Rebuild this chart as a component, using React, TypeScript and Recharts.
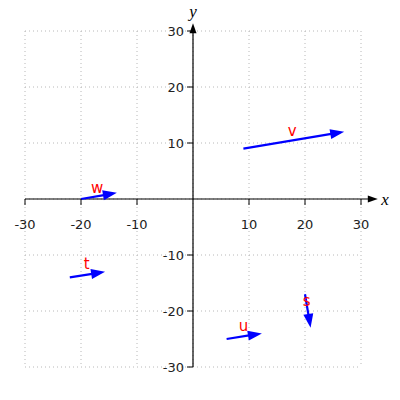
import { ComposedChart, XAxis, YAxis, CartesianGrid, ReferenceLine, ReferenceDot, Scatter } from 'recharts';

// vectors (start -> end) and where their names sit
const names = ['v', 'w', 't', 's', 'u'];
const startX = [9, -20, -22, 20, 6];
const startY = [9, 0, -14, -17, -25];
const endX = [27, -13.6, -15.7, 21, 12.3];
const endY = [12, 1.1, -13, -23, -24];
const labelX = [17.7, -17.1, -19, 20.3, 9];
const labelY = [12.1, 1.9, -11.6, -18.2, -22.7];

const tickValues = [-30, -20, -10, 10, 20, 30];
const gridValues = [-30, -20, -10, 0, 10, 20, 30];
const xAxisEnd = 33;
const yAxisEnd = 31.4;

const labelData = names.map((n, i) => ({ name: n, x: labelX[i], y: labelY[i] }));
const xTickData = tickValues.map(v => ({ x: v, y: 0 }));
const yTickData = tickValues.map(v => ({ x: 0, y: v }));

const FONT = "'DejaVu Sans', sans-serif";

const Arrow = (props: any) => {
  const { x1, y1, x2, y2, color, width, headLen, headW } = props;
  const dx = x2 - x1;
  const dy = y2 - y1;
  const len = Math.sqrt(dx * dx + dy * dy) || 1;
  const ux = dx / len;
  const uy = dy / len;
  const bx = x2 - ux * headLen;
  const by = y2 - uy * headLen;
  const px = -uy * headW / 2;
  const py = ux * headW / 2;
  return (
    <g>
      <line x1={x1} y1={y1} x2={bx + ux} y2={by + uy} stroke={color} strokeWidth={width} />
      <polygon points={`${x2},${y2} ${bx + px},${by + py} ${bx - px},${by - py}`} fill={color} />
    </g>
  );
};

export default function App() {
  return (
    <div style={{ position: 'absolute', left: 0, top: 0, background: '#fff' }}>
      <ComposedChart width={400} height={400} margin={{ top: 31, right: 39, bottom: 33, left: 25 }}>
        <XAxis type="number" dataKey="x" domain={[-30, 30]} ticks={gridValues} hide />
        <YAxis type="number" dataKey="y" domain={[-30, 30]} ticks={gridValues} hide />
        <CartesianGrid stroke="#b8b8b8" strokeDasharray="1 3" />

        <ReferenceLine
          segment={[{ x: -30, y: 0 }, { x: xAxisEnd, y: 0 }]}
          ifOverflow="visible"
          shape={(p: any) => <Arrow {...p} color="#000" width={1.2} headLen={10} headW={7} />}
        />
        <ReferenceLine
          segment={[{ x: 0, y: -30 }, { x: 0, y: yAxisEnd }]}
          ifOverflow="visible"
          shape={(p: any) => <Arrow {...p} color="#000" width={1.2} headLen={10} headW={7} />}
        />

        <Scatter
          data={xTickData}
          isAnimationActive={false}
          shape={(p: any) => (
            <g>
              <line x1={p.cx} y1={p.cy} x2={p.cx} y2={p.cy + 6} stroke="#000" strokeWidth={1} />
              <text x={p.cx} y={p.cy + 30} textAnchor="middle" fontSize={13} fontFamily={FONT} fill="#222">
                {p.payload.x}
              </text>
            </g>
          )}
        />
        <Scatter
          data={yTickData}
          isAnimationActive={false}
          shape={(p: any) => (
            <g>
              <line x1={p.cx} y1={p.cy} x2={p.cx - 6} y2={p.cy} stroke="#000" strokeWidth={1} />
              <text x={p.cx - 9} y={p.cy + 5} textAnchor="end" fontSize={13} fontFamily={FONT} fill="#222">
                {p.payload.y}
              </text>
            </g>
          )}
        />

        {names.map((n, i) => (
          <ReferenceLine
            key={n}
            segment={[{ x: startX[i], y: startY[i] }, { x: endX[i], y: endY[i] }]}
            ifOverflow="visible"
            shape={(p: any) => <Arrow {...p} color="#0000ff" width={2.2} headLen={14} headW={10} />}
          />
        ))}

        <Scatter
          data={labelData}
          isAnimationActive={false}
          shape={(p: any) => (
            <text x={p.cx} y={p.cy + 5} textAnchor="middle" fontSize={15} fontFamily={FONT} fill="#ff0000">
              {p.payload.name}
            </text>
          )}
        />

        <ReferenceDot
          x={34.3}
          y={-0.2}
          ifOverflow="visible"
          shape={(p: any) => (
            <text x={p.cx} y={p.cy + 5} textAnchor="middle" fontSize={17} fontStyle="italic" fontFamily="'Liberation Serif', serif" fill="#000">
              x
            </text>
          )}
        />
        <ReferenceDot
          x={0}
          y={33.4}
          ifOverflow="visible"
          shape={(p: any) => (
            <text x={p.cx} y={p.cy + 5} textAnchor="middle" fontSize={17} fontStyle="italic" fontFamily="'Liberation Serif', serif" fill="#000">
              y
            </text>
          )}
        />
      </ComposedChart>
    </div>
  );
}
